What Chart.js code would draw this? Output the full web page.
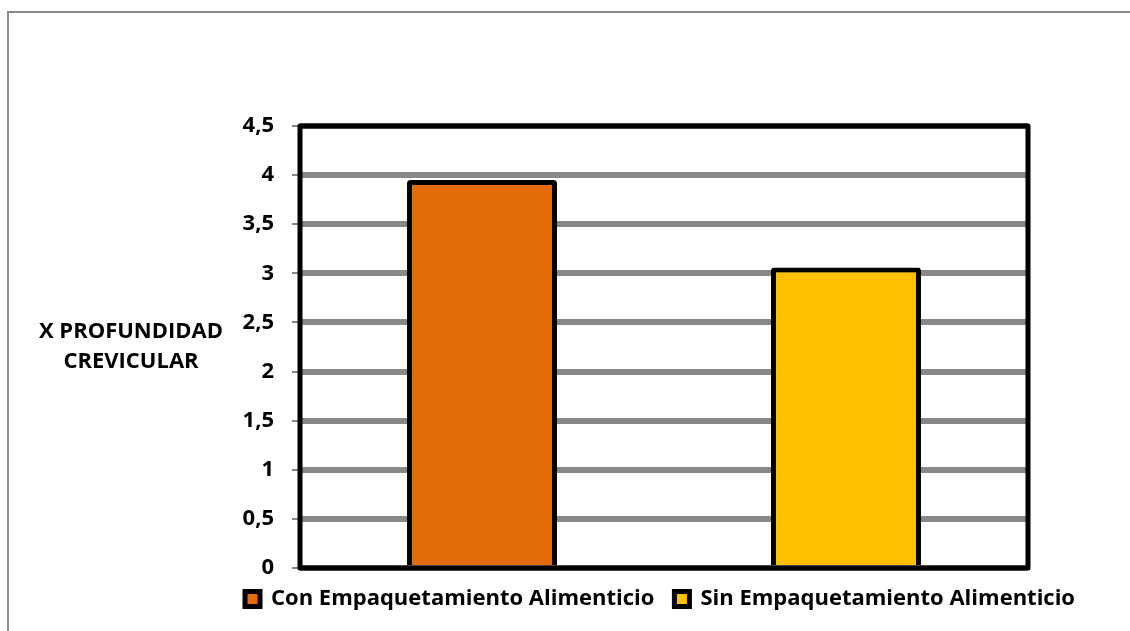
<!DOCTYPE html>
<html>
<head>
<meta charset="utf-8">
<script src="https://cdn.jsdelivr.net/npm/chart.js@4"></script>
<style>
  html, body { margin: 0; padding: 0; width: 1130px; height: 631px; overflow: hidden; background: #fff; }
  #frame { position: absolute; left: 7px; top: 11px; width: 2000px; height: 2000px; border: 2px solid #8a8a8a; box-sizing: border-box; }
  #wrap { position: absolute; left: 0; top: 0; width: 1130px; height: 631px; }
</style>
</head>
<body>
<div id="frame"></div>
<div id="wrap"><canvas id="c" width="1130" height="631"></canvas></div>
<script>
const categories = ['Con Empaquetamiento Alimenticio', 'Sin Empaquetamiento Alimenticio'];
const conValues = [3.95, null];
const sinValues = [null, 3.06];
const seriesColors = ['#E36C09', '#FFC000'];
const yTickLabels = ['0', '0,5', '1', '1,5', '2', '2,5', '3', '3,5', '4', '4,5'];
const yTitleLines = ['X PROFUNDIDAD', 'CREVICULAR'];

const FONT = "'Open Sans', sans-serif";

const plotBorder = {
  id: 'plotBorder',
  afterDatasetsDraw(chart) {
    const a = chart.chartArea, ctx = chart.ctx;
    ctx.save();
    ctx.strokeStyle = '#000';
    ctx.lineWidth = 5;
    ctx.lineJoin = 'round';
    ctx.strokeRect(a.left, a.top, a.right - a.left, a.bottom - a.top);
    ctx.restore();
  },
  afterDraw(chart) {
    const a = chart.chartArea, ctx = chart.ctx;
    ctx.save();
    ctx.fillStyle = '#000';
    ctx.font = "bold 22px " + FONT;
    ctx.textAlign = 'center';
    ctx.textBaseline = 'middle';
    const cy = (a.top + a.bottom) / 2;
    const lh = 30;
    yTitleLines.forEach((t, i) => {
      ctx.fillText(t, 131, cy + (i - (yTitleLines.length - 1) / 2) * lh);
    });
    ctx.restore();
  }
};

new Chart(document.getElementById('c'), {
  type: 'bar',
  data: {
    labels: categories,
    datasets: [
      { label: categories[0], data: conValues, backgroundColor: seriesColors[0], borderColor: '#000', borderWidth: 5, borderSkipped: 'bottom', borderRadius: 3 },
      { label: categories[1], data: sinValues, backgroundColor: seriesColors[1], borderColor: '#000', borderWidth: 5, borderSkipped: 'bottom', borderRadius: 3 }
    ]
  },
  options: {
    responsive: false,
    animation: false,
    layout: { padding: { left: 210, right: 20, top: 126, bottom: 11 } },
    datasets: { bar: { categoryPercentage: 1, barPercentage: 0.412 } },
    scales: {
      x: { stacked: true, display: false },
      y: {
        min: 0, max: 4.5,
        afterFit(s) { s.width = 90; },
        ticks: {
          stepSize: 0.5,
          padding: 18,
          color: '#000',
          font: { family: FONT, size: 22, weight: 'bold' },
          callback: (v, i) => yTickLabels[i]
        },
        grid: { color: '#888', lineWidth: 6, drawTicks: true, tickLength: 8, tickWidth: 2, tickColor: '#888' },
        border: { display: false }
      },
      y2: {
        position: 'right',
        display: true,
        afterFit(s) { s.width = 82; },
        ticks: { display: false },
        grid: { display: false, drawTicks: false },
        border: { display: false }
      }
    },
    plugins: {
      tooltip: { enabled: false },
      legend: {
        position: 'bottom',
        labels: {
          boxWidth: 15, boxHeight: 15, padding: 20,
          color: '#000',
          font: { family: FONT, size: 22, weight: 'bold' }
        }
      }
    }
  },
  plugins: [plotBorder]
});
</script>
</body>
</html>
